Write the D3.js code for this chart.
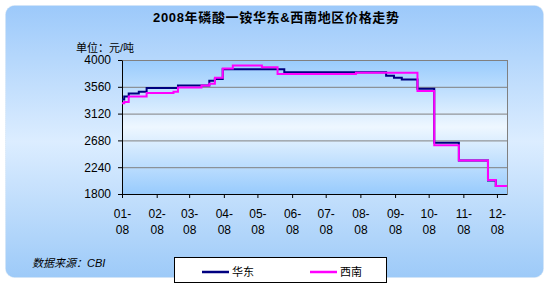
<!DOCTYPE html>
<html>
<head>
<meta charset="utf-8">
<script src="https://cdn.jsdelivr.net/npm/d3@7"></script>
<style>
  body { margin: 0; background: #fff; }
  svg { display: block; }
  text { font-family: "Liberation Sans", Arial, "Noto Sans CJK SC", sans-serif; }
</style>
</head>
<body>
<div id="chart"></div>
<script>
var width = 549,
    height = 283;

// 华东 (East China) - price change dates and values, yuan/ton
var eastDates = ["2008-01-01", "2008-01-03", "2008-01-07", "2008-01-16", "2008-01-23",
                 "2008-02-20", "2008-03-19", "2008-03-24", "2008-03-31", "2008-05-25",
                 "2008-08-24", "2008-08-31", "2008-09-07", "2008-09-21", "2008-10-06",
                 "2008-10-28", "2008-11-23", "2008-11-30", "2008-12-10"];
var eastValues = [3350, 3400, 3450, 3480, 3540,
                  3580, 3660, 3690, 3850, 3800,
                  3740, 3710, 3680, 3530, 2640,
                  2350, 2020, 1930, 1930];

// 西南 (Southwest)
var westDates = ["2008-01-01", "2008-01-03", "2008-01-07", "2008-01-23", "2008-02-16",
                 "2008-02-20", "2008-03-12", "2008-03-19", "2008-03-24", "2008-03-31",
                 "2008-04-09", "2008-05-05", "2008-05-19", "2008-07-28", "2008-09-21",
                 "2008-10-06", "2008-10-28", "2008-11-23", "2008-11-30", "2008-12-10"];
var westValues = [3290, 3310, 3400, 3460, 3480,
                  3550, 3580, 3610, 3710, 3860,
                  3910, 3880, 3770, 3790, 3490,
                  2600, 2350, 2030, 1930, 1930];

var yTicks = [1800, 2240, 2680, 3120, 3560, 4000];
var monthTicks = ["2008-01-01", "2008-02-01", "2008-03-01", "2008-04-01", "2008-05-01", "2008-06-01",
                  "2008-07-01", "2008-08-01", "2008-09-01", "2008-10-01", "2008-11-01", "2008-12-01"];
var monthLabels = ["01-", "02-", "03-", "04-", "05-", "06-", "07-", "08-", "09-", "10-", "11-", "12-"];
var yearLabel = "08";
var seriesNames = ["华东", "西南"];
var seriesColors = ["#000080", "#ff00ff"];

var parse = d3.timeParse("%Y-%m-%d");

var plotLeft = 122, plotRight = 507, plotTop = 60, plotBottom = 194;

var x = d3.scaleTime()
    .domain([parse("2008-01-01"), parse("2008-12-10")])
    .range([plotLeft, plotRight]);

var y = d3.scaleLinear()
    .domain([1800, 4000])
    .range([plotBottom, plotTop]);

var svg = d3.select("#chart").append("svg")
    .attr("width", width)
    .attr("height", height);

var defs = svg.append("defs");

var bgGrad = defs.append("linearGradient")
    .attr("id", "bgGrad").attr("x1", 0).attr("y1", 0).attr("x2", 0).attr("y2", 1);
bgGrad.append("stop").attr("offset", "0%").attr("stop-color", "#9cc9fa");
bgGrad.append("stop").attr("offset", "50%").attr("stop-color", "#dcedff");
bgGrad.append("stop").attr("offset", "100%").attr("stop-color", "#9dcaf8");

var plotGrad = defs.append("linearGradient")
    .attr("id", "plotGrad").attr("x1", 0).attr("y1", 0).attr("x2", 0).attr("y2", 1);
plotGrad.append("stop").attr("offset", "0%").attr("stop-color", "#98cbfd");
plotGrad.append("stop").attr("offset", "50%").attr("stop-color", "#eef7ff");
plotGrad.append("stop").attr("offset", "100%").attr("stop-color", "#98cbfd");

// outer chart area
svg.append("rect")
    .attr("x", 5.5).attr("y", 5.5)
    .attr("width", 538).attr("height", 272)
    .attr("rx", 9).attr("ry", 9)
    .attr("fill", "url(#bgGrad)")
    .attr("stroke", "#d4e4f4")
    .attr("stroke-dasharray", "1,1");

// title
svg.append("text")
    .attr("x", 276).attr("y", 22)
    .attr("text-anchor", "middle")
    .attr("font-size", "13px")
    .attr("font-weight", "bold")
    .attr("textLength", 246)
    .attr("lengthAdjust", "spacing")
    .text("2008年磷酸一铵华东&西南地区价格走势");

svg.append("text")
    .attr("x", 76).attr("y", 52)
    .attr("font-size", "11px")
    .text("单位：元/吨");

// plot area
svg.append("rect")
    .attr("x", plotLeft).attr("y", plotTop)
    .attr("width", plotRight - plotLeft).attr("height", plotBottom - plotTop)
    .attr("fill", "url(#plotGrad)");

// grid lines
svg.append("g")
    .attr("transform", "translate(" + plotLeft + ",0)")
    .call(d3.axisLeft(y).tickValues(yTicks.slice(1)).tickSize(-(plotRight - plotLeft)).tickFormat(""))
    .call(function(g) {
      g.select(".domain").remove();
      g.selectAll("line").attr("stroke", "#808080");
    });

// right border
svg.append("line")
    .attr("x1", plotRight + 0.5).attr("x2", plotRight + 0.5)
    .attr("y1", plotTop).attr("y2", plotBottom)
    .attr("stroke", "#808080");

// y axis
svg.append("g")
    .attr("transform", "translate(" + plotLeft + ",0)")
    .call(d3.axisLeft(y).tickValues(yTicks).tickSize(4).tickSizeOuter(0).tickPadding(7).tickFormat(d3.format("d")))
    .call(function(g) {
      g.select(".domain").attr("stroke", "#000");
      g.selectAll("line").attr("stroke", "#000");
      g.selectAll("text").attr("font-size", "12px").attr("font-family", "Liberation Sans, Arial").attr("fill", "#000");
    });

// x axis
var xAxis = svg.append("g")
    .attr("transform", "translate(0," + plotBottom + ")")
    .call(d3.axisBottom(x).tickValues(monthTicks.map(parse)).tickSize(4).tickSizeOuter(0).tickFormat(""))
    .call(function(g) {
      g.select(".domain").attr("stroke", "#000");
      g.selectAll("line").attr("stroke", "#000");
    });

xAxis.selectAll(".tick").each(function(d, i) {
  var t = d3.select(this).append("text")
      .attr("fill", "#000")
      .attr("font-size", "12px")
      .attr("font-family", "Liberation Sans, Arial")
      .attr("text-anchor", "middle");
  t.append("tspan").attr("x", 0).attr("y", 24).text(monthLabels[i]);
  t.append("tspan").attr("x", 0).attr("y", 40).text(yearLabel);
});

// lines
var line = d3.line()
    .x(function(d) { return x(d.date); })
    .y(function(d) { return y(d.value); })
    .curve(d3.curveStepAfter);

var series = [
  eastDates.map(function(d, i) { return { date: parse(d), value: eastValues[i] }; }),
  westDates.map(function(d, i) { return { date: parse(d), value: westValues[i] }; })
];

svg.selectAll("path.series")
    .data(series)
  .enter().append("path")
    .attr("class", "series")
    .attr("d", line)
    .attr("fill", "none")
    .attr("stroke", function(d, i) { return seriesColors[i]; })
    .attr("stroke-width", 2);

// source note
svg.append("text")
    .attr("x", 32).attr("y", 267)
    .attr("font-size", "11px")
    .attr("font-style", "italic")
    .text("数据来源：CBI");

// legend
var legend = svg.append("g");
legend.append("rect")
    .attr("x", 174.5).attr("y", 257.5)
    .attr("width", 212).attr("height", 25)
    .attr("fill", "#fff")
    .attr("stroke", "#000");

var legendX = [202, 310];
seriesNames.forEach(function(name, i) {
  legend.append("line")
      .attr("x1", legendX[i]).attr("x2", legendX[i] + 27)
      .attr("y1", 272).attr("y2", 272)
      .attr("stroke", seriesColors[i])
      .attr("stroke-width", 2.5);
  legend.append("text")
      .attr("x", legendX[i] + 30).attr("y", 276)
      .attr("font-size", "11px")
      .text(name);
});
</script>
</body>
</html>
